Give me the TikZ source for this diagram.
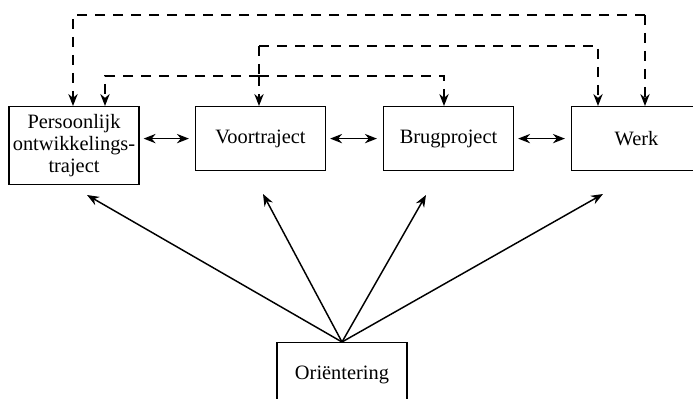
\documentclass[tikz,border=0pt]{standalone}
\usepackage{fontspec}
\setmainfont{Liberation Serif}
\usetikzlibrary{arrows.meta}

\tikzset{
    fase/.style={draw, line width=0.9pt, minimum width=97.5pt, minimum height=48pt,
        align=center, inner sep=2pt, anchor=north, font=\fontsize{15.3}{16.2}\selectfont},
    pijl/.style={line width=1.1pt, -{Stealth[length=9pt,width=7pt]}},
    dubbel/.style={line width=1.1pt, {Stealth[length=9pt,width=7pt]}-{Stealth[length=9pt,width=7pt]},
        shorten <=3pt, shorten >=4.5pt},
    terug/.style={line width=1.3pt, dash pattern=on 7.5pt off 6pt}
}

\begin{document}
\begin{tikzpicture}[x=0.75pt, y=-0.75pt]
        \useasboundingbox (0,0) rectangle (693,399);

        % Fasen
        \node[fase, minimum height=58.5pt] (persoon) at (74,106) {Persoonlijk\\ontwikkelings-\\traject};
        \node[fase] (voor) at (260.5,106) {Voortraject};
        \node[fase] (brug) at (448.5,106) {Brugproject};
        \node[fase] (werk) at (636.5,106) {Werk};
        \node[fase] (orient) at (342,342) {Oriëntering};

        % Horizontale pijlen tussen de fasen
        \draw[dubbel] (voor.west -| persoon.east) -- (voor.west);
        \draw[dubbel] (voor.east) -- (brug.west);
        \draw[dubbel] (brug.east) -- (werk.west);

        % Pijlen vanuit de orientering
        \coordinate (tip1) at (87,195);
        \coordinate (tip2) at (263,194);
        \coordinate (tip3) at (426,195);
        \coordinate (tip4) at (603,194);
        \draw[pijl] (orient.north) -- (tip1);
        \draw[pijl] (orient.north) -- (tip2);
        \draw[pijl] (orient.north) -- (tip3);
        \draw[pijl] (orient.north) -- (tip4);

        % Gestippelde terugkoppelingen
        \coordinate (buitenL) at (73,15);
        \coordinate (buitenR) at (645,15);
        \coordinate (middenL) at (259,46);
        \coordinate (middenR) at (598,46);
        \coordinate (splits) at (259,76);
        \coordinate (binnenL) at (105,76);
        \coordinate (binnenR) at (444,76);
        \draw[terug, pijl] (buitenR) -- (buitenL) -- (persoon.north -| buitenL);
        \draw[terug, pijl] (buitenR) -- (werk.north -| buitenR);
        \draw[terug, pijl] (middenL) -- (middenR) -- (werk.north -| middenR);
        \draw[terug] (middenL) -- (splits);
        \draw[terug, pijl] (splits) -- (voor.north -| splits);
        \draw[terug, pijl] (splits) -- (binnenL) -- (persoon.north -| binnenL);
        \draw[terug, pijl] (splits) -- (binnenR) -- (brug.north -| binnenR);

    \end{tikzpicture}
\end{document}
